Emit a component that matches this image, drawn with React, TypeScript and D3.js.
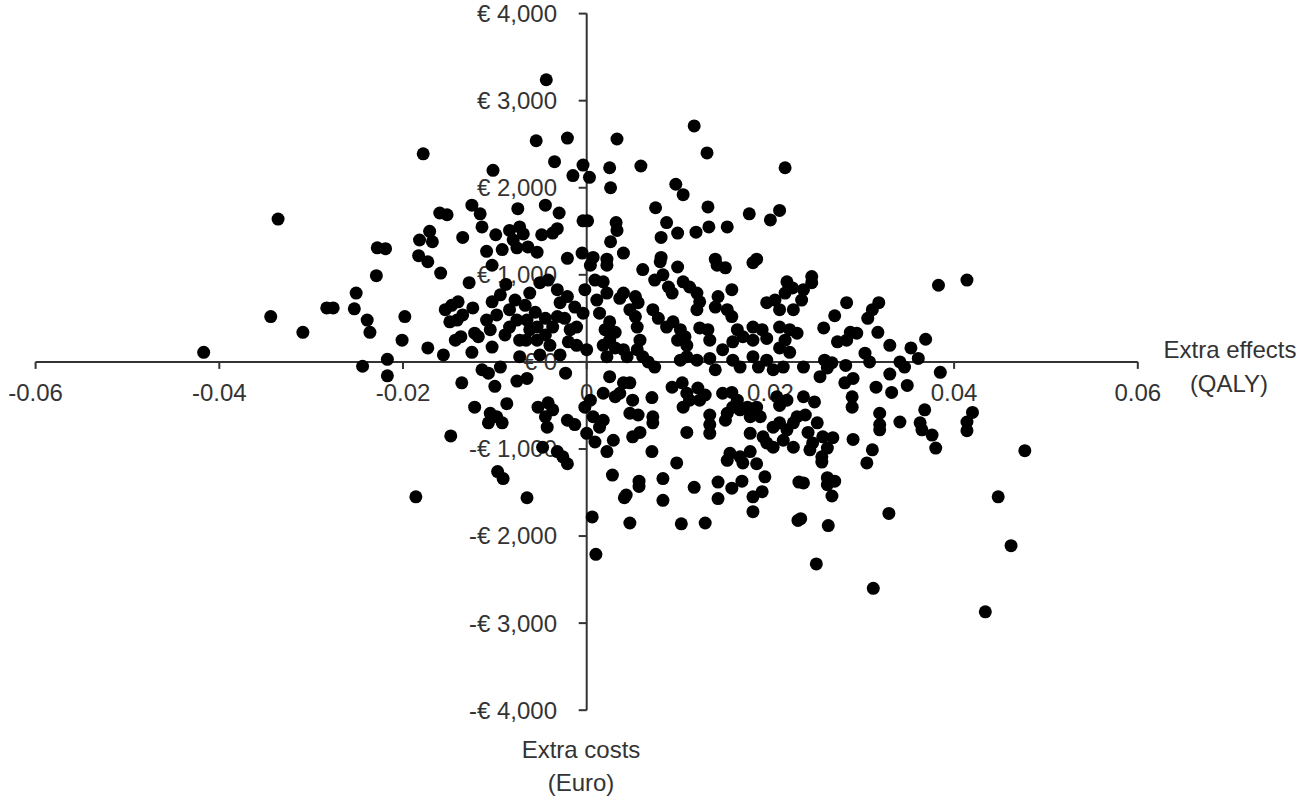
import * as d3 from 'd3';

const xTicks = [-0.06, -0.04, -0.02, 0, 0.02, 0.04, 0.06];
const yTicks = [4000, 3000, 2000, 1000, 0, -1000, -2000, -3000, -4000];

// extra effects (QALY) per bootstrap replicate
const effects = [
  -0.0044, -0.0055, -0.0021, -0.0035, -0.0102, -0.0015, -0.0004, 0.0003, -0.0178, -0.0125,
  -0.0116, -0.0114, -0.016, -0.0152, -0.0075, -0.0045, -0.003, -0.0032, -0.0004, 0.0001,
  -0.0171, -0.0168, -0.0182, -0.0135, -0.0099, -0.0084, -0.0073, -0.0069, -0.008, -0.0049,
  -0.0037, -0.0109, -0.0092, -0.0076, -0.0064, -0.0054, -0.0021, -0.0005, 0.0007, 0.0117,
  0.0033, 0.0131, 0.0025, 0.0059, 0.0216, 0.0026, 0.0097, 0.0105, 0.0075, 0.0132,
  0.0177, 0.021, 0.02, 0.0032, 0.0033, 0.0087, 0.0081, 0.0099, 0.0119, 0.0133,
  0.0153, 0.0026, 0.004, 0.0081, 0.014, 0.0185, 0.0022, -0.0336, -0.0228, -0.0219,
  -0.0183, -0.0417, -0.0344, -0.0309, -0.0283, -0.0276, -0.0251, -0.0253, -0.0239, -0.0236,
  -0.0229, -0.0198, -0.0201, -0.0217, -0.0244, -0.0217, -0.0186, -0.0159, -0.0128, -0.0103,
  -0.0088, -0.0147, -0.0154, -0.014, -0.0135, -0.0149, -0.0141, -0.0124, -0.0103, -0.0098,
  -0.0084, -0.0076, -0.0084, -0.0109, -0.0065, -0.0054, -0.0045, -0.0054, -0.0062, -0.0051,
  -0.0042, -0.0032, -0.0029, -0.0021, -0.0013, -0.0004, -0.0011, -0.0032, -0.0037, -0.002,
  -0.0011, 0.0, -0.0143, -0.0137, -0.0122, -0.0118, -0.0173, -0.0156, -0.0125, -0.0103,
  -0.0073, -0.0066, -0.0114, -0.0107, -0.0094, -0.0136, -0.01, -0.0076, -0.0065, -0.0023,
  -0.0122, -0.0105, -0.0098, -0.0107, -0.0092, -0.0087, -0.0053, -0.0042, -0.0037, -0.0045,
  -0.0043, -0.0021, -0.0013, -0.0002, 0.0004, 0.0007, 0.0, 0.0009, -0.0148, -0.0048,
  -0.0032, -0.0026, -0.0173, -0.0097, -0.0091, -0.0065, -0.0021, 0.0006, 0.001, 0.0028,
  0.0057, 0.0057, 0.0043, 0.0041, 0.0083, 0.0083, 0.0117, 0.0143, 0.0143, 0.0158,
  0.0169, 0.0181, 0.0191, 0.0194, 0.0181, 0.0047, 0.0103, 0.0129, 0.0098, 0.0153,
  0.017, 0.0185, 0.0231, 0.023, 0.0256, 0.0305, 0.0236, 0.0262, 0.0262, 0.027,
  0.0267, 0.0233, 0.0263, 0.0329, 0.025, 0.0312, 0.0448, 0.0462, 0.0434, 0.0245,
  0.0245, 0.0236, 0.0234, 0.0383, 0.0414, 0.0283, 0.0318, 0.027, 0.0311, 0.0306,
  0.0258, 0.0287, 0.0294, 0.0283, 0.0317, 0.0273, 0.033, 0.0369, 0.0353, 0.0361,
  0.0303, 0.0308, 0.0259, 0.0267, 0.0262, 0.0254, 0.0282, 0.0341, 0.0346, 0.033,
  0.0236, 0.0385, 0.0281, 0.029, 0.0315, 0.0332, 0.0349, 0.0236, 0.0248, 0.0289,
  0.0289, 0.0238, 0.0251, 0.0241, 0.0257, 0.0268, 0.0246, 0.0243, 0.0262, 0.0256,
  0.0319, 0.0319, 0.0319, 0.0341, 0.0368, 0.0363, 0.0365, 0.0376, 0.038, 0.029,
  0.0311, 0.042, 0.0414, 0.0414, 0.0477,
  0.0022, 0.0061, 0.008, 0.0099, 0.0142, 0.0151, 0.0181, 0.0018, 0.0022, 0.004,
  0.0036, 0.0053, 0.0056, 0.0074, 0.0083, 0.0089, 0.0093, 0.0105, 0.0112, 0.012,
  0.0123, 0.012, 0.0158, 0.0143, 0.014, 0.0153, 0.0158, 0.0218, 0.0224, 0.0216,
  0.0196, 0.0205, 0.021, 0.0225, 0.0014, 0.0025, 0.002, 0.0031, 0.0047, 0.0053,
  0.0055, 0.0072, 0.0078, 0.0087, 0.0094, 0.0102, 0.0099, 0.0109, 0.0123, 0.0132,
  0.0134, 0.0107, 0.0164, 0.017, 0.0159, 0.0181, 0.0191, 0.0181, 0.0196, 0.021,
  0.0221, 0.0216, 0.0229, 0.021, 0.0221, 0.0025, 0.0018, 0.0031, 0.004, 0.0044,
  0.0022, 0.0058, 0.0055, 0.0061, 0.0067, 0.0074, 0.0102, 0.0109, 0.012, 0.0134,
  0.014, 0.0148, 0.0159, 0.0167, 0.0181, 0.0187, 0.0196, 0.0203, 0.0214, 0.0025,
  0.004, 0.0047, 0.0018, 0.0031, 0.0036, 0.005, 0.0047, 0.0056, 0.0071, 0.0072,
  0.0072, 0.0093, 0.0104, 0.0109, 0.0112, 0.0105, 0.0121, 0.0129, 0.0123, 0.0134,
  0.0134, 0.0148, 0.0158, 0.0164, 0.0159, 0.0167, 0.0175, 0.0185, 0.0189, 0.0178,
  0.0153, 0.0151, 0.0207, 0.0218, 0.021, 0.0203, 0.021, 0.0218, 0.0192, 0.0178,
  0.0196, 0.0203, 0.0214, 0.0225, 0.0229, 0.0225, 0.0018, 0.0014, 0.0029, 0.0022,
  0.005, 0.0058, 0.0071, 0.0109, 0.0134, 0.0156, 0.0167, 0.0178, 0.0004, 0.0009,
  -0.0002, 0.0011,
  -0.0094, -0.0078, -0.0067, -0.0056, -0.0089, -0.0073, -0.0105, -0.0045, -0.0062, -0.0024,
  -0.0018, -0.004, -0.0051, -0.0029,
];

// extra costs (Euro), same order as effects
const costs = [
  3240, 2540, 2570, 2300, 2200, 2140, 2260, 2120, 2390, 1800,
  1700, 1550, 1710, 1690, 1760, 1800, 1710, 1530, 1620, 1620,
  1500, 1380, 1400, 1430, 1460, 1510, 1550, 1470, 1400, 1460,
  1480, 1270, 1290, 1310, 1320, 1260, 1190, 1250, 1200, 2710,
  2560, 2400, 2230, 2250, 2230, 2000, 2040, 1920, 1770, 1780,
  1700, 1740, 1630, 1600, 1510, 1600, 1430, 1480, 1490, 1550,
  1550, 1380, 1250, 1200, 1180, 1180, 1180, 1640, 1310, 1300,
  1220, 110, 520, 340, 620, 620, 790, 610, 480, 340,
  990, 520, 250, 30, -50, -160, -1550, 1020, 910, 1110,
  890, 650, 600, 690, 540, 460, 480, 620, 690, 540,
  600, 480, 400, 480, 480, 400, 310, 250, 790, 910,
  940, 830, 680, 750, 630, 560, 400, 520, 400, 230,
  190, 140, 250, 290, 330, 290, 160, 80, 110, 170,
  60, 250, -90, -130, -60, -240, -280, -220, -190, -130,
  -520, -590, -630, -700, -700, -480, -520, -470, -550, -630,
  -750, -670, -720, -520, -440, -630, -820, -920, -850, -980,
  -1030, -1090, 1150, -1260, -1340, -1560, -1170, -1780, -2210, -1300,
  -1370, -1430, -1530, -1560, -1340, -1590, -1440, -1380, -1570, -1450,
  -1370, -1550, -1490, -1320, -1720, -1850, -1860, -1850, -1160, -1130,
  -1160, -1170, -1380, -1820, -1150, -1160, -1390, -1330, -1410, -1370,
  -1540, -1800, -1880, -1740, -2320, -2600, -1550, -2110, -2870, 980,
  910, 830, 710, 880, 940, 680, 680, 530, 600, 500,
  390, 340, 330, 250, 340, 230, 190, 260, 160, 40,
  100, 0, 20, -10, -70, -170, -40, 0, -60, -140,
  -60, -120, -240, -190, -290, -350, -270, -400, -460, -400,
  -520, -610, -700, -810, -860, -870, -930, -1010, -990, -1090,
  -590, -720, -780, -690, -550, -700, -780, -840, -990, -890,
  -1010, -580, -690, -790, -1020,
  1110, 1060, 1150, 1090, 1110, 1080, 1140, 920, 790, 790,
  730, 750, 680, 940, 1000, 860, 790, 920, 860, 790,
  690, 600, 830, 750, 630, 600, 520, 920, 850, 790,
  680, 710, 600, 600, 560, 460, 370, 340, 600, 520,
  400, 600, 500, 400, 460, 370, 250, 190, 390, 370,
  250, 290, 370, 290, 230, 400, 370, 250, 270, 400,
  370, 250, 330, 160, 110, 250, 190, 160, 140, 60,
  60, 250, 140, 60, 0, -60, 20, 60, 20, 40,
  -90, 140, 20, -60, 60, -60, 20, -90, -60, -170,
  -240, -240, -360, -400, -360, -440, -590, -610, -410, -630,
  -700, -290, -240, -360, -440, -520, -300, -380, -440, -610,
  -720, -360, -350, -440, -520, -550, -520, -520, -630, -630,
  -590, -670, -400, -440, -500, -750, -700, -780, -860, -820,
  -930, -980, -900, -980, -630, -700, -670, -750, -900, -1030,
  -860, -810, -1030, -810, -820, -1050, -1090, -1030, 1110, 940,
  830, 710,
  770, 710, 650, 570, 310, 250, 370, 500, 370, 500,
  370, 190, 80, 80,
];

const fmtX = (v: number) => (v === 0 ? '0' : `${v < 0 ? '-' : ''}${Math.abs(v).toFixed(2)}`);
const fmtY = (v: number) => (v === 0 ? '€ 0' : `${v < 0 ? '-' : ''}€ ${d3.format(',')(Math.abs(v))}`);

export default function App() {
  const width = 1299;
  const height = 797;

  const x = d3.scaleLinear().domain([-0.06, 0.06]).range([35.6, 1137.8]);
  const y = d3.scaleLinear().domain([-4000, 4000]).range([710.2, 13.6]);
  const x0 = x(0);
  const y0 = y(0);

  const points = effects.map((e, i) => ({ e, c: costs[i] }));
  const ink = '#333';

  return (
    <svg
      width={width}
      height={height}
      style={{ position: 'absolute', left: 0, top: 0, background: '#fff' }}
      fontFamily="'Liberation Sans', Arial, sans-serif"
      fontSize={24}
    >
      {/* axes */}
      <line x1={x.range()[0]} x2={x.range()[1]} y1={y0} y2={y0} stroke={ink} strokeWidth={2} />
      <line x1={x0} x2={x0} y1={y.range()[1]} y2={y.range()[0]} stroke={ink} strokeWidth={2} />

      {xTicks.map((t) => (
        <g key={`x${t}`}>
          <line x1={x(t)} x2={x(t)} y1={y0} y2={y0 + 7} stroke={ink} strokeWidth={2} />
          <text x={x(t)} y={401} textAnchor="middle" fill={ink}>
            {fmtX(t)}
          </text>
        </g>
      ))}

      {yTicks.map((t) => (
        <g key={`y${t}`}>
          <line x1={x0 - 8} x2={x0} y1={y(t)} y2={y(t)} stroke={ink} strokeWidth={2} />
          <text x={557} y={y(t)} dy="0.35em" textAnchor="end" fill={ink}>
            {fmtY(t)}
          </text>
        </g>
      ))}

      <text x={1230} y={358} textAnchor="middle" fill={ink}>Extra effects</text>
      <text x={1229} y={392} textAnchor="middle" fill={ink}>(QALY)</text>
      <text x={581} y={758} textAnchor="middle" fill={ink}>Extra costs</text>
      <text x={581} y={791} textAnchor="middle" fill={ink}>(Euro)</text>

      {/* bootstrap replicates */}
      <g fill="#000">
        {points.map((p, i) => (
          <circle key={i} cx={x(p.e)} cy={y(p.c)} r={6.5} />
        ))}
      </g>
    </svg>
  );
}
